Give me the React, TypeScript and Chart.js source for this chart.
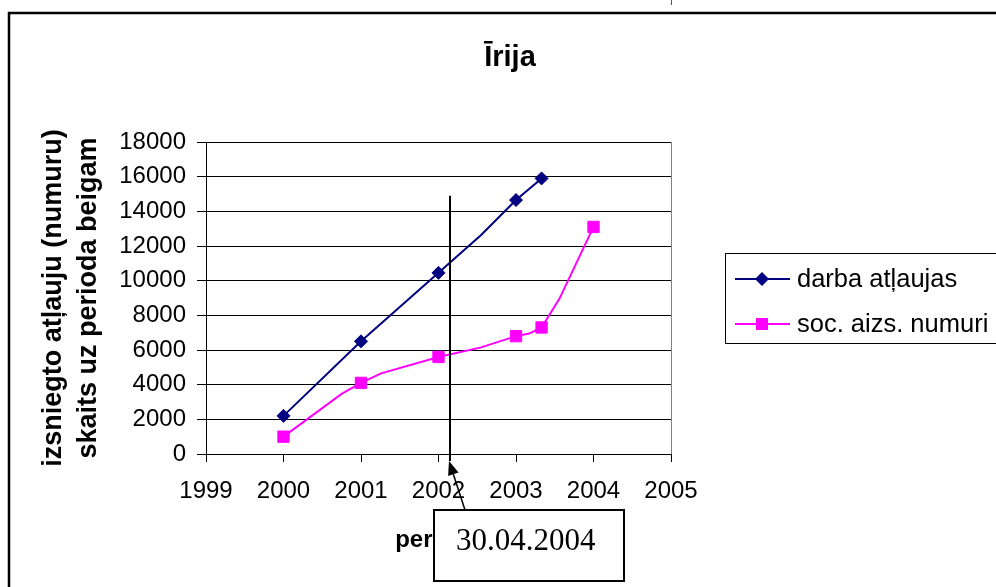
import React, { useEffect, useRef } from "react";
import { Chart, registerables } from "chart.js";

Chart.register(...registerables);

// ---------- data ----------
const chartTitle = "Īrija";
const yAxisTitle = ["izsniegto atļauju (numuru)", "skaits uz perioda beigam"];
const xAxisTitle = "periods";
const seriesNames = ["darba atļaujas", "soc. aizs. numuri"];

const darbaYears = [2000, 2001, 2002, 2002.55, 2003, 2003.33];
const darbaValues = [2200, 6500, 10450, 12630, 14650, 15900];
const darbaMarked = [true, true, true, false, true, true];

const socYears = [2000, 2000.75, 2001, 2001.26, 2002, 2002.55, 2003, 2003.17, 2003.33, 2003.56, 2004];
const socValues = [1000, 3470, 4100, 4650, 5600, 6150, 6800, 6950, 7300, 8950, 13100];
const socMarked = [true, false, true, false, true, false, true, false, true, false, true];

const xMin = 1999;
const xMax = 2005;
const xStep = 1;
const yMin = 0;
const yMax = 18000;
const yStep = 2000;

const markerYear = 2002.15;
const markerTopValue = 14900;
const annotationText = "30.04.2004";

// ---------- styles ----------
const NAVY = "#000080";
const MAGENTA = "#FF00FF";
const SANS = '"Liberation Sans", Arial, Helvetica, sans-serif';
const SERIF = '"Liberation Serif", "Times New Roman", serif';

function drawDiamond(ctx: CanvasRenderingContext2D, x: number, y: number, r: number, color: string) {
  ctx.beginPath();
  ctx.moveTo(x - r, y);
  ctx.lineTo(x, y - r);
  ctx.lineTo(x + r, y);
  ctx.lineTo(x, y + r);
  ctx.closePath();
  ctx.fillStyle = color;
  ctx.fill();
}

function drawSquare(ctx: CanvasRenderingContext2D, x: number, y: number, half: number, color: string) {
  ctx.fillStyle = color;
  ctx.fillRect(x - half, y - half, half * 2, half * 2);
}

const decorPlugin = {
  id: "decor",
  beforeDraw(chart: any) {
    const ctx = chart.ctx as CanvasRenderingContext2D;
    ctx.save();
    ctx.fillStyle = "#ffffff";
    ctx.fillRect(0, 0, chart.width, chart.height);
    ctx.restore();
  },
  afterDraw(chart: any) {
    const ctx = chart.ctx as CanvasRenderingContext2D;
    const area = chart.chartArea;
    const xs = chart.scales.x;
    const ys = chart.scales.y;
    ctx.save();

    // plot area right border (gray)
    ctx.strokeStyle = "#808080";
    ctx.lineWidth = 1;
    ctx.beginPath();
    ctx.moveTo(Math.round(area.right) + 0.5, area.top);
    ctx.lineTo(Math.round(area.right) + 0.5, area.bottom);
    ctx.stroke();

    // outer frame
    ctx.strokeStyle = "#000";
    ctx.lineWidth = 2.5;
    ctx.beginPath();
    ctx.moveTo(9, chart.height + 5);
    ctx.lineTo(9, 13);
    ctx.lineTo(chart.width + 5, 13);
    ctx.stroke();

    // small mark at top
    ctx.strokeStyle = "#555";
    ctx.lineWidth = 1;
    ctx.beginPath();
    ctx.moveTo(671.5, 0);
    ctx.lineTo(671.5, 5);
    ctx.stroke();

    // title
    ctx.fillStyle = "#000";
    ctx.font = "bold 29px " + SANS;
    ctx.textAlign = "center";
    ctx.textBaseline = "alphabetic";
    ctx.fillText(chartTitle, 510, 66);

    // legend
    const lx = 725, ly = 253, lw = 300, lh = 90;
    ctx.strokeStyle = "#000";
    ctx.lineWidth = 1;
    ctx.strokeRect(lx + 0.5, ly + 0.5, lw, lh);
    const rows = [279, 324];
    chart.data.datasets.forEach((ds: any, i: number) => {
      const y = rows[i];
      ctx.strokeStyle = ds.borderColor;
      ctx.lineWidth = 2;
      ctx.beginPath();
      ctx.moveTo(735, y);
      ctx.lineTo(790, y);
      ctx.stroke();
      if (i === 0) drawDiamond(ctx, 762, y, 7, ds.backgroundColor);
      else drawSquare(ctx, 762, y, 6, ds.backgroundColor);
      ctx.fillStyle = "#000";
      ctx.font = "25.5px " + SANS;
      ctx.textAlign = "left";
      ctx.textBaseline = "middle";
      ctx.fillText(ds.label, 797, y + 1);
    });

    // vertical marker line
    const mx = Math.round(xs.getPixelForValue(markerYear));
    const mTop = ys.getPixelForValue(markerTopValue);
    const tipY = area.bottom + 7;
    ctx.strokeStyle = "#000";
    ctx.lineWidth = 2;
    ctx.beginPath();
    ctx.moveTo(mx, mTop);
    ctx.lineTo(mx, tipY);
    ctx.stroke();

    // arrow from box to axis
    const tipX = mx - 1;
    const tailX = mx + 15;
    const tailY = 510;
    const dx = tipX - tailX, dy = tipY - tailY;
    const len = Math.hypot(dx, dy);
    const ux = dx / len, uy = dy / len;
    const bx = tipX - ux * 14, by = tipY - uy * 14;
    ctx.lineWidth = 1.5;
    ctx.beginPath();
    ctx.moveTo(tailX, tailY);
    ctx.lineTo(bx, by);
    ctx.stroke();
    ctx.fillStyle = "#000";
    ctx.beginPath();
    ctx.moveTo(tipX, tipY);
    ctx.lineTo(bx - uy * 5.5, by + ux * 5.5);
    ctx.lineTo(bx + uy * 5.5, by - ux * 5.5);
    ctx.closePath();
    ctx.fill();

    // annotation box
    ctx.fillStyle = "#fff";
    ctx.fillRect(434, 510, 190, 71);
    ctx.strokeStyle = "#000";
    ctx.lineWidth = 2;
    ctx.strokeRect(434, 510, 190, 71);
    ctx.fillStyle = "#000";
    ctx.font = "31px " + SERIF;
    ctx.textAlign = "left";
    ctx.textBaseline = "alphabetic";
    ctx.fillText(annotationText, 456, 550);

    ctx.restore();
  },
};

export default function App() {
  const canvasRef = useRef<HTMLCanvasElement | null>(null);

  useEffect(() => {
    if (!canvasRef.current) return;
    Chart.defaults.font.family = SANS;
    const chart = new Chart(canvasRef.current, {
      type: "line",
      data: {
        datasets: [
          {
            label: seriesNames[0],
            data: darbaYears.map((x, i) => ({ x, y: darbaValues[i] })),
            borderColor: NAVY,
            backgroundColor: NAVY,
            borderWidth: 2,
            pointStyle: "rectRot",
            pointRadius: darbaMarked.map((m) => (m ? 6.5 : 0)),
            pointHoverRadius: 0,
            pointBorderWidth: 1,
            pointBorderColor: NAVY,
            pointBackgroundColor: NAVY,
            tension: 0,
            fill: false,
          },
          {
            label: seriesNames[1],
            data: socYears.map((x, i) => ({ x, y: socValues[i] })),
            borderColor: MAGENTA,
            backgroundColor: MAGENTA,
            borderWidth: 2,
            pointStyle: "rect",
            pointRadius: socMarked.map((m) => (m ? 8 : 0)),
            pointHoverRadius: 0,
            pointBorderWidth: 1,
            pointBorderColor: MAGENTA,
            pointBackgroundColor: MAGENTA,
            tension: 0,
            fill: false,
          },
        ],
      },
      options: {
        responsive: false,
        animation: false,
        events: [],
        layout: { padding: { left: 0, top: 142, right: 325, bottom: 0 } },
        plugins: {
          legend: { display: false },
          title: { display: false },
          tooltip: { enabled: false },
        },
        scales: {
          x: {
            type: "linear",
            min: xMin,
            max: xMax,
            ticks: {
              stepSize: xStep,
              callback: (v: any) => String(v),
              color: "#000",
              font: { size: 24 },
              padding: 15,
              maxRotation: 0,
              autoSkip: false,
            },
            grid: { drawOnChartArea: false, drawTicks: true, tickLength: 8, color: "#000", lineWidth: 1 },
            border: { display: true, color: "#000", width: 1 },
            title: {
              display: true,
              text: xAxisTitle,
              color: "#000",
              font: { size: 24, weight: "bold" },
              padding: { top: 0, bottom: 32 },
            },
            afterFit: (s: any) => {
              s.height = 133;
            },
          },
          y: {
            type: "linear",
            min: yMin,
            max: yMax,
            ticks: {
              stepSize: yStep,
              callback: (v: any) => String(v),
              color: "#000",
              font: { size: 24 },
              padding: 11,
            },
            grid: { color: "#000", lineWidth: 1, tickLength: 9, drawTicks: true },
            border: { display: true, color: "#000", width: 1 },
            title: {
              display: true,
              text: yAxisTitle,
              color: "#000",
              font: { size: 27, weight: "bold", lineHeight: 1.3 },
              padding: { top: 36, bottom: 0 },
            },
            afterFit: (s: any) => {
              s.width = 206;
            },
          },
        },
      } as any,
      plugins: [decorPlugin],
    });
    return () => chart.destroy();
  }, []);

  return (
    <div style={{ position: "fixed", left: 0, top: 0, width: 996, height: 587, background: "#fff" }}>
      <canvas ref={canvasRef} width={996} height={587} style={{ display: "block" }} />
    </div>
  );
}
